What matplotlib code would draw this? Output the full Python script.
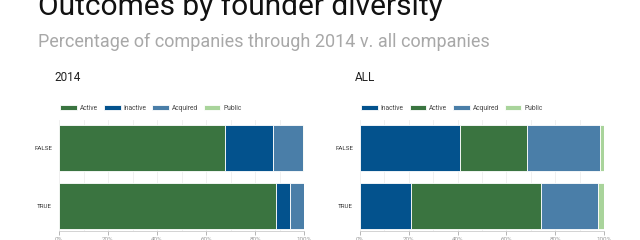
import matplotlib
matplotlib.use("Agg")
import matplotlib.pyplot as plt
import matplotlib.ticker as ticker
import numpy as np

plt.rcParams["font.family"] = ["Roboto", "DejaVu Sans"]

GROUPS = ["FALSE", "TRUE"]

# panel "2014": stacking order Active, Inactive, Acquired, Public
LEFT_ORDER = ["Active", "Inactive", "Acquired", "Public"]
LEFT_VALUES = {
    "Active": [67.8, 88.4],
    "Inactive": [19.4, 6.0],
    "Acquired": [12.5, 5.5],
    "Public": [0.3, 0.1],
}

# panel "ALL": stacking order Inactive, Active, Acquired, Public
RIGHT_ORDER = ["Inactive", "Active", "Acquired", "Public"]
RIGHT_VALUES = {
    "Inactive": [40.8, 20.7],
    "Active": [27.6, 53.5],
    "Acquired": [29.8, 23.2],
    "Public": [1.8, 2.6],
}

COLORS = {
    "Active": "#3a7440",
    "Inactive": "#03528d",
    "Acquired": "#4a7ea8",
    "Public": "#a9d49b",
}

W, H = 640, 240
fig = plt.figure(figsize=(W / 100, H / 100), dpi=100)
fig.patch.set_facecolor("white")


def px_axes(x0, x1, y0, y1):
    return fig.add_axes([x0 / W, 1 - y1 / H, (x1 - x0) / W, (y1 - y0) / H])


def draw_panel(ax, order, values, label):
    y = np.arange(len(GROUPS))
    left = np.zeros(len(GROUPS))
    for name in order:
        vals = np.array(values[name])
        ax.barh(y, vals, left=left, height=0.8, color=COLORS[name],
                edgecolor="white", linewidth=0.6, label=name, zorder=3)
        left += vals
    ax.set_xlim(0, 100)
    ax.set_ylim(1.44, -0.49)
    ax.set_yticks(y)
    ax.set_yticklabels(GROUPS, fontsize=4.5, color="#333333")
    ax.tick_params(axis="y", length=0, pad=5)
    ax.xaxis.set_major_locator(ticker.MultipleLocator(20))
    ax.xaxis.set_minor_locator(ticker.MultipleLocator(10))
    ax.xaxis.set_major_formatter(ticker.FuncFormatter(lambda v, _: f"{int(v)}%"))
    ax.tick_params(axis="x", labelsize=4.5, colors="#999999", length=3,
                   width=0.5, pad=1)
    ax.tick_params(axis="x", which="minor", length=0)
    ax.grid(axis="x", which="both", color="#eeeeee", linewidth=0.6, zorder=0)
    for s in ["top", "right", "left"]:
        ax.spines[s].set_visible(False)
    ax.spines["bottom"].set_color("#cccccc")
    ax.spines["bottom"].set_linewidth(0.6)
    ax.legend(ncol=4, loc="lower left", bbox_to_anchor=(-0.005, 1.05),
              frameon=False, fontsize=4.8, handlelength=2.5, handleheight=0.9,
              handletextpad=0.4, columnspacing=0.9, borderaxespad=0,
              labelcolor="#444444")
    ax.text(-0.02, 1.38, label, transform=ax.transAxes, fontsize=8.5,
            color="#222222", ha="left", va="center")


ax_l = px_axes(59, 304, 120, 231)
draw_panel(ax_l, LEFT_ORDER, LEFT_VALUES, "2014")

ax_r = px_axes(360, 604, 120, 231)
draw_panel(ax_r, RIGHT_ORDER, RIGHT_VALUES, "ALL")

fig.text(38 / W, 1 - 15 / H, "Outcomes by founder diversity", fontsize=21.5,
         color="#111111", ha="left", va="baseline")
fig.text(38 / W, 1 - 47 / H, "Percentage of companies through 2014 v. all companies",
         fontsize=13, color="#a8a8a8", ha="left", va="baseline")

fig.savefig("out.png", dpi=100, facecolor="white")
